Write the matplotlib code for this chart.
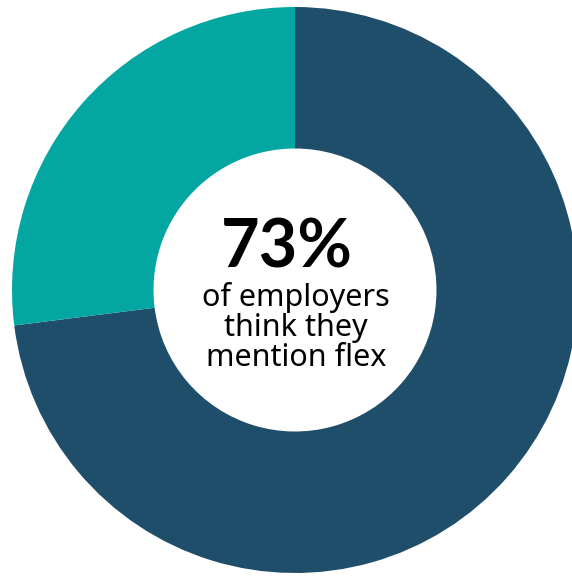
import matplotlib
matplotlib.use("Agg")
from matplotlib import pyplot as plt

# donut data
labels = ["mention flex", "don't"]
shares = [73, 27]
colors = ["#1f4e6b", "#04a6a1"]

headline = "73%"
caption = ["of employers", "think they", "mention flex"]

W, H = 572, 577
fig = plt.figure(figsize=(W / 100, H / 100), dpi=100)
ax = fig.add_axes([0, 0, 1, 1])

cx, cy, r = 295, H - 290, 283
ax.pie(shares, colors=colors, startangle=90, counterclock=False,
       center=(cx, cy), radius=r,
       wedgeprops=dict(width=r * 0.5, linewidth=0))

ax.set_xlim(0, W)
ax.set_ylim(0, H)
ax.set_aspect("equal")
ax.axis("off")

ax.text(287, H - 267, headline, ha="center", va="baseline",
        fontsize=48, fontweight="bold", family="Lato", color="black")
for i, line in enumerate(caption):
    ax.text(296, H - (306 + 30 * i), line, ha="center", va="baseline",
            fontsize=22, family="Noto Sans", color="black")

fig.savefig("out.png", dpi=100)
